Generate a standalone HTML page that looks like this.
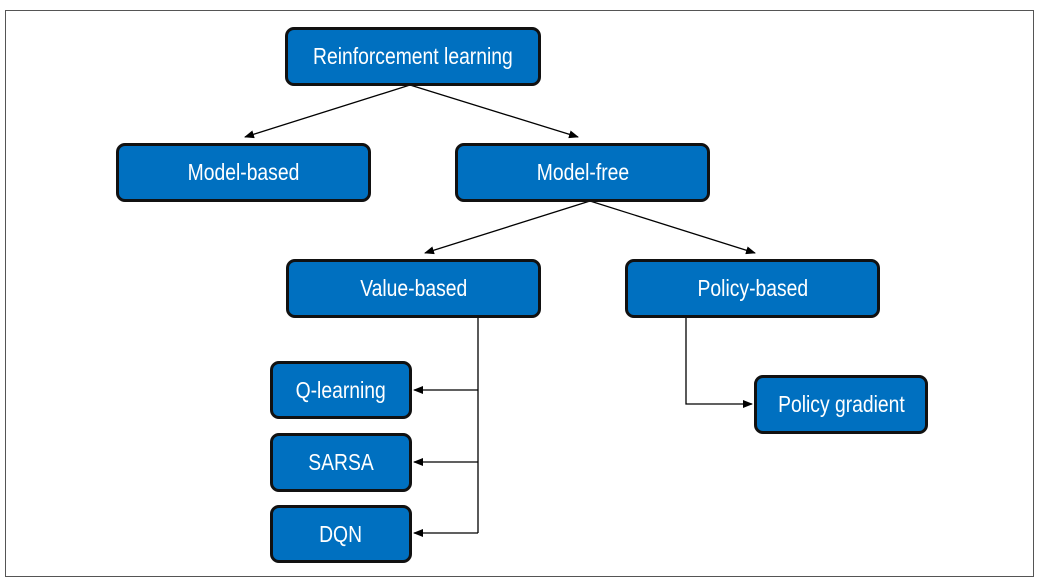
<!DOCTYPE html>
<html><head><style>
body{margin:0;width:1041px;height:581px;background:#fff;position:relative;overflow:hidden;font-family:"Liberation Sans",sans-serif}
.frame{position:absolute;left:5px;top:10px;width:1029px;height:567px;border:1px solid #555;box-sizing:border-box}
.b{position:absolute;background:#0070c0;border:3px solid #111;border-radius:9px;box-sizing:border-box;color:#fff;display:flex;align-items:center;justify-content:center;font-size:23px}
.b span{display:inline-block;transform:scaleX(0.84);white-space:nowrap}
svg{position:absolute;left:0;top:0}
</style></head><body>
<div class="frame"></div>
<svg width="1041" height="581">
<defs><marker id="a" markerWidth="10" markerHeight="8" refX="9" refY="4" orient="auto" markerUnits="userSpaceOnUse"><path d="M0,0L10,4L0,8z" fill="#000"/></marker></defs>
<g stroke="#000" stroke-width="1.3" fill="none">
<line x1="410" y1="85" x2="245" y2="137" marker-end="url(#a)"/>
<line x1="410" y1="85" x2="578" y2="137" marker-end="url(#a)"/>
<line x1="590" y1="201" x2="425" y2="253" marker-end="url(#a)"/>
<line x1="590" y1="201" x2="755" y2="253" marker-end="url(#a)"/>
<polyline points="478,317 478,533"/>
<line x1="478" y1="390" x2="414" y2="390" marker-end="url(#a)"/>
<line x1="478" y1="462" x2="414" y2="462" marker-end="url(#a)"/>
<line x1="478" y1="533" x2="414" y2="533" marker-end="url(#a)"/>
<polyline points="686,317 686,404 752,404" marker-end="url(#a)"/>
</g></svg>
<div class="b" style="left:285px;top:27px;width:256px;height:59px"><span>Reinforcement learning</span></div>
<div class="b" style="left:116px;top:143px;width:255px;height:59px"><span>Model-based</span></div>
<div class="b" style="left:455px;top:143px;width:255px;height:59px"><span>Model-free</span></div>
<div class="b" style="left:286px;top:259px;width:255px;height:59px"><span>Value-based</span></div>
<div class="b" style="left:625px;top:259px;width:255px;height:59px"><span>Policy-based</span></div>
<div class="b" style="left:270px;top:361px;width:142px;height:58px"><span>Q-learning</span></div>
<div class="b" style="left:270px;top:433px;width:142px;height:59px"><span>SARSA</span></div>
<div class="b" style="left:270px;top:505px;width:142px;height:58px"><span>DQN</span></div>
<div class="b" style="left:754px;top:375px;width:174px;height:59px"><span>Policy gradient</span></div>
</body></html>
